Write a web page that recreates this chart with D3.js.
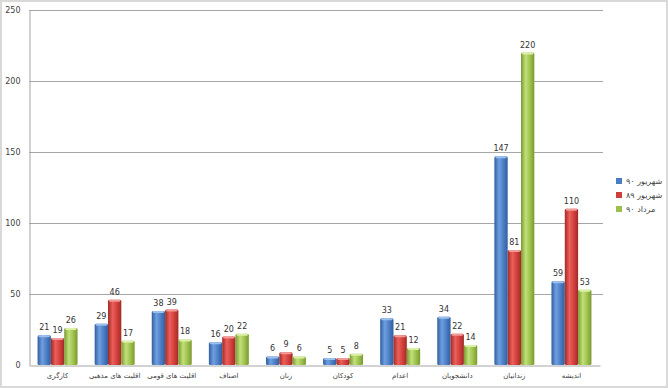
<!DOCTYPE html>
<html>
<head>
<meta charset="utf-8">
<script src="https://cdn.jsdelivr.net/npm/d3@7"></script>
<style>
  body { margin: 0; background: #fff; }
  text { font-family: 'DejaVu Sans', sans-serif; }
</style>
</head>
<body>
<div id="chart"></div>
<script>
const w = 668;
const h = 388;

// data
const categories = ['کارگری', 'اقلیت های مذهبی', 'اقلیت های قومی', 'اصناف', 'زنان', 'کودکان', 'اعدام', 'دانشجویان', 'زندانیان', 'اندیشه'];
const seriesNames = ['شهریور ۹۰', 'شهریور ۸۹', 'مرداد ۹۰'];
const shahrivar90 = [21, 29, 38, 16, 6, 5, 33, 34, 147, 59];
const shahrivar89 = [19, 46, 39, 20, 9, 5, 21, 22, 81, 110];
const mordad90 = [26, 17, 18, 22, 6, 8, 12, 14, 220, 53];
const yTicks = [0, 50, 100, 150, 200, 250];

const seriesValues = [shahrivar90, shahrivar89, mordad90];
const colors = [
  { dark: '#2f5f9e', light: '#6f9fe0', mid: '#4a7cc4', cap: '#9cc0ee' },
  { dark: '#a02a27', light: '#ec5f5b', mid: '#d03e3a', cap: '#f29a98' },
  { dark: '#7a9a2e', light: '#c2e07a', mid: '#9cc04c', cap: '#dcf0a8' }
];

const plotLeft = 29, plotRight = 600, plotTop = 10, plotBottom = 365;

const svg = d3.select('#chart')
  .append('svg')
  .attr('width', w)
  .attr('height', h);

// gradients for cylinder-ish bars
const defs = svg.append('defs');
colors.forEach(function (c, i) {
  const g = defs.append('linearGradient')
    .attr('id', 'grad' + i)
    .attr('x1', '0').attr('x2', '1').attr('y1', '0').attr('y2', '0');
  g.append('stop').attr('offset', '0%').attr('stop-color', c.dark);
  g.append('stop').attr('offset', '35%').attr('stop-color', c.light);
  g.append('stop').attr('offset', '70%').attr('stop-color', c.mid);
  g.append('stop').attr('offset', '100%').attr('stop-color', c.dark);
});

// outer border
svg.append('rect')
  .attr('x', 1).attr('y', 1)
  .attr('width', w - 2).attr('height', h - 2)
  .attr('fill', 'none')
  .attr('stroke', '#d9d9d9')
  .attr('stroke-width', 2);

const x0 = d3.scaleBand()
  .domain(categories)
  .range([plotLeft, plotRight])
  .paddingInner(0.3)
  .paddingOuter(0.15);

const x1 = d3.scaleBand()
  .domain(seriesNames)
  .range([0, x0.bandwidth()]);

const y = d3.scaleLinear()
  .domain([0, 250])
  .range([plotBottom, plotTop]);

// gridlines
svg.append('g')
  .selectAll('line')
  .data(yTicks.filter(d => d > 0))
  .enter()
  .append('line')
  .attr('x1', plotLeft)
  .attr('x2', plotRight + 3)
  .attr('y1', d => Math.round(y(d)) + 0.5)
  .attr('y2', d => Math.round(y(d)) + 0.5)
  .attr('stroke', '#a6a6a6')
  .attr('stroke-width', 1);

// y axis
const yAxis = svg.append('g')
  .attr('transform', 'translate(' + (plotLeft + 0.5) + ',0)')
  .call(d3.axisLeft(y).tickValues(yTicks).tickSize(0).tickPadding(9));
yAxis.select('.domain').attr('stroke', '#a6a6a6');
yAxis.selectAll('.tick text')
  .style('font-size', '8px')
  .attr('fill', '#404040');

// x axis
const xAxis = svg.append('g')
  .attr('transform', 'translate(0,' + (plotBottom + 0.5) + ')')
  .call(d3.axisBottom(x0).tickSize(0).tickPadding(8));
xAxis.select('.domain').attr('stroke', '#a6a6a6');
xAxis.selectAll('.tick text')
  .style('font-size', '7px')
  .attr('fill', '#404040');

// bars
seriesValues.forEach(function (vals, s) {
  const g = svg.append('g');
  g.selectAll('rect.bar')
    .data(vals)
    .enter()
    .append('rect')
    .attr('class', 'bar')
    .attr('x', (d, i) => x0(categories[i]) + x1(seriesNames[s]))
    .attr('y', d => y(d))
    .attr('width', x1.bandwidth())
    .attr('height', d => plotBottom - y(d))
    .attr('rx', 1.5)
    .attr('fill', 'url(#grad' + s + ')');

  // lighter top cap
  g.selectAll('rect.cap')
    .data(vals)
    .enter()
    .append('rect')
    .attr('class', 'cap')
    .attr('x', (d, i) => x0(categories[i]) + x1(seriesNames[s]) + 1)
    .attr('y', d => y(d))
    .attr('width', x1.bandwidth() - 2)
    .attr('height', d => Math.min(2, plotBottom - y(d)))
    .attr('rx', 1)
    .attr('fill', colors[s].cap);

  // value labels
  g.selectAll('text')
    .data(vals)
    .enter()
    .append('text')
    .attr('x', (d, i) => x0(categories[i]) + x1(seriesNames[s]) + x1.bandwidth() / 2)
    .attr('y', d => y(d) - 5)
    .attr('text-anchor', 'middle')
    .style('font-size', '8px')
    .attr('fill', '#333')
    .text(d => d);
});

// legend
const legend = svg.append('g')
  .attr('transform', 'translate(616,181)');
seriesNames.forEach(function (name, i) {
  legend.append('rect')
    .attr('x', 0)
    .attr('y', i * 14 - 3)
    .attr('width', 6)
    .attr('height', 6)
    .attr('fill', colors[i].mid);
  legend.append('text')
    .attr('x', 10)
    .attr('y', i * 14)
    .attr('dominant-baseline', 'central')
    .style('font-size', '8px')
    .attr('fill', '#404040')
    .text(name);
});
</script>
</body>
</html>
